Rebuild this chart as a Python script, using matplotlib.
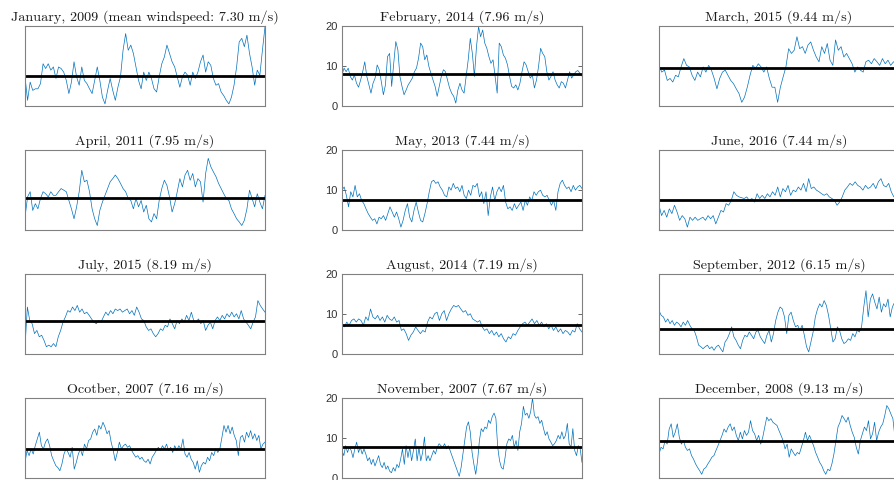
import numpy as np
import matplotlib.pyplot as plt

# hourly-ish wind speed traces (m/s), one per month
jan = [7.2, 1.3, 5.9, 3.8, 4.2, 4.2, 5.5, 10.5, 9.3, 10.5, 8.9, 9.7, 6.8, 9.7, 9.3, 8.4, 6.3, 3.0, 5.9, 11.0,
       7.2, 5.1, 9.7, 6.3, 5.5, 4.2, 3.0, 6.3, 9.7, 6.3, 2.1, 0.4, 3.8, 6.8, 3.8, 1.3, 4.6, 7.2, 13.9, 18.1,
       13.9, 15.2, 13.1, 9.7, 6.3, 4.2, 8.4, 6.3, 8.4, 6.8, 4.2, 3.4, 7.2, 10.5, 12.2, 15.2, 13.1, 11.0, 9.7, 7.2,
       4.6, 7.2, 8.4, 7.6, 5.1, 8.4, 6.8, 8.4, 11.0, 12.7, 8.4, 11.0, 10.1, 6.8, 5.1, 5.5, 3.4, 2.5, 1.3, 0.4,
       2.1, 5.1, 9.7, 16.0, 16.9, 14.8, 17.7, 13.1, 9.7, 5.1, 8.9, 7.6, 13.9, 19.8]
feb = [7.7, 9.4, 8.5, 9.4, 7.3, 6.4, 7.7, 5.6, 4.6, 6.4, 8.5, 11.0, 7.3, 5.2, 3.1, 5.6, 6.9, 10.2, 9.0, 6.0,
       2.7, 5.2, 12.3, 13.1, 4.8, 10.6, 16.1, 14.0, 7.3, 4.8, 2.7, 3.9, 5.2, 6.0, 6.9, 8.5, 9.4, 11.9, 15.7, 14.8,
       11.5, 12.7, 9.8, 8.1, 6.4, 4.8, 2.3, 4.8, 7.3, 9.0, 8.5, 6.4, 4.4, 3.1, 2.3, 0.6, 3.9, 5.6, 3.9, 3.1,
       7.3, 11.5, 16.9, 13.1, 7.3, 14.8, 19.8, 17.3, 19.0, 15.7, 14.4, 12.3, 10.6, 11.5, 7.3, 3.1, 15.7, 14.8, 12.7, 11.9,
       10.2, 7.3, 4.8, 4.4, 5.2, 3.9, 5.6, 8.5, 11.0, 10.2, 8.5, 6.9, 7.7, 4.4, 6.4, 9.8, 14.4, 13.1, 12.3, 8.5,
       6.4, 7.3, 8.5, 6.4, 5.2, 4.4, 6.0, 5.6, 4.4, 6.4, 8.5, 6.9, 7.7, 8.5, 8.8, 8.1, 7.4]
mar = [10.1, 8.4, 8.9, 6.3, 6.8, 5.9, 7.6, 7.2, 9.7, 11.8, 10.1, 9.7, 7.6, 6.3, 8.4, 7.2, 9.7, 8.4, 10.1, 8.9,
       6.8, 4.2, 6.8, 8.4, 8.9, 7.6, 6.3, 5.5, 4.2, 3.0, 0.8, 2.1, 4.6, 7.6, 10.1, 9.3, 10.5, 9.7, 8.4, 9.7,
       6.8, 4.6, 4.6, 0.8, 4.6, 7.2, 9.7, 14.3, 13.1, 13.9, 17.3, 14.3, 14.8, 13.1, 15.2, 16.0, 13.9, 12.2, 11.0, 14.8,
       13.1, 15.6, 11.4, 10.1, 16.5, 13.9, 14.8, 12.2, 13.1, 11.8, 10.5, 8.4, 9.7, 8.9, 8.4, 11.0, 11.4, 10.5, 11.8, 11.0,
       10.1, 11.8, 10.5, 11.4, 10.1, 11.0, 10.5, 11.0]
apr = [3.1, 8.2, 9.5, 4.8, 6.5, 5.2, 7.8, 9.5, 9.0, 8.2, 9.5, 8.6, 8.6, 9.5, 10.3, 9.9, 9.5, 7.3, 5.2, 2.7,
       5.7, 9.5, 14.9, 12.0, 12.4, 9.5, 5.2, 2.7, 1.0, 4.8, 6.9, 8.6, 10.3, 12.0, 12.8, 13.7, 12.8, 11.6, 10.3, 9.5,
       7.8, 7.3, 5.2, 7.8, 5.7, 7.3, 4.4, 6.1, 2.7, 1.9, 4.0, 2.7, 7.3, 10.3, 12.4, 11.1, 8.2, 4.4, 6.5, 9.5,
       12.8, 10.7, 13.7, 14.9, 12.4, 14.1, 10.7, 12.8, 12.0, 6.9, 14.1, 17.9, 15.8, 14.5, 13.3, 11.6, 10.3, 9.0, 7.8, 7.3,
       5.2, 4.0, 2.7, 1.9, 1.0, 2.3, 5.2, 9.9, 7.8, 5.7, 9.0, 6.9, 5.2, 8.6]
may = [9.9, 10.7, 8.6, 5.7, 9.5, 8.2, 11.1, 8.2, 9.0, 7.3, 6.5, 5.2, 4.0, 3.1, 2.3, 2.7, 1.4, 3.1, 2.7, 3.5,
       2.3, 4.0, 5.7, 4.4, 3.1, 4.4, 2.7, 0.6, 2.3, 4.8, 6.5, 3.1, 1.9, 4.8, 6.9, 4.4, 2.3, 1.9, 4.0, 6.5,
       9.5, 12.0, 12.4, 11.6, 12.0, 10.7, 9.9, 8.6, 8.2, 10.7, 9.9, 11.6, 10.3, 10.7, 9.5, 11.1, 8.6, 7.8, 9.9, 8.6,
       11.1, 10.7, 11.6, 8.2, 9.5, 6.5, 9.5, 3.5, 8.2, 10.7, 7.3, 9.5, 10.7, 9.5, 11.1, 6.9, 5.2, 5.7, 4.8, 6.5,
       5.2, 6.1, 6.9, 4.8, 7.3, 6.1, 8.2, 7.3, 9.5, 8.6, 9.5, 9.9, 8.6, 8.2, 8.6, 7.3, 6.1, 7.3, 4.8, 9.5,
       11.6, 12.4, 11.1, 10.3, 10.7, 9.5, 11.1, 9.9, 10.7, 11.1, 10.3]
jun = [6.1, 3.5, 4.8, 3.1, 5.2, 4.0, 6.1, 4.4, 2.3, 3.5, 2.7, 0.6, 3.1, 2.3, 3.1, 2.3, 2.7, 3.1, 2.3, 3.5,
       2.7, 3.5, 1.4, 3.1, 4.8, 4.4, 6.5, 6.1, 7.3, 9.5, 8.6, 8.2, 8.0, 7.8, 8.2, 7.3, 7.8, 6.9, 9.0, 7.8,
       8.6, 7.8, 9.0, 8.2, 9.5, 8.6, 10.7, 8.2, 10.3, 9.5, 11.1, 8.6, 9.9, 9.5, 10.7, 9.9, 11.6, 9.5, 12.8, 10.3,
       10.7, 9.9, 9.5, 9.0, 8.6, 9.0, 8.2, 7.8, 7.3, 6.1, 6.9, 8.2, 9.9, 10.7, 11.6, 11.1, 12.0, 11.1, 10.7, 9.9,
       11.1, 10.3, 10.7, 11.6, 10.3, 12.0, 12.8, 11.1, 10.7, 11.6, 9.5, 8.2, 9.0, 9.9]
jul = [1.7, 11.7, 8.3, 7.5, 5.0, 5.8, 4.2, 4.6, 3.3, 1.7, 2.1, 1.7, 2.5, 1.7, 4.2, 5.8, 7.9, 9.2, 10.8, 10.4,
       11.7, 10.8, 12.1, 10.4, 11.2, 10.0, 10.4, 9.6, 8.7, 7.9, 7.5, 8.3, 7.9, 9.2, 10.4, 9.6, 10.8, 10.0, 11.2, 10.8,
       11.2, 10.4, 10.8, 11.2, 10.0, 10.8, 9.6, 11.7, 10.4, 8.7, 8.3, 6.7, 5.8, 6.2, 5.0, 4.2, 5.0, 6.2, 5.8, 7.1,
       6.7, 8.7, 7.5, 6.2, 8.3, 7.5, 8.7, 7.9, 9.6, 8.3, 10.4, 8.3, 7.9, 8.7, 7.5, 8.3, 5.8, 7.1, 7.9, 6.2,
       8.3, 9.2, 8.3, 9.6, 8.7, 10.0, 9.2, 10.4, 9.2, 10.0, 8.7, 10.8, 8.7, 7.9, 7.1, 6.2, 7.9, 9.2, 13.3, 12.1,
       11.2, 10.4]
aug = [7.1, 6.7, 7.9, 7.1, 8.3, 8.7, 7.9, 8.7, 8.3, 7.1, 9.2, 8.3, 11.2, 9.2, 8.7, 9.6, 8.3, 9.2, 7.9, 9.6,
       8.7, 8.3, 9.2, 7.9, 8.3, 5.8, 6.2, 5.0, 3.3, 4.6, 5.4, 6.7, 5.8, 5.0, 5.8, 5.4, 7.9, 9.2, 8.7, 10.0,
       10.4, 8.3, 10.0, 10.8, 8.3, 10.0, 11.2, 12.1, 11.7, 12.1, 11.2, 10.4, 10.8, 9.6, 10.0, 8.7, 8.3, 7.9, 8.3, 6.7,
       5.8, 6.2, 5.0, 5.8, 4.6, 5.4, 4.2, 5.0, 3.7, 2.9, 4.2, 3.7, 5.0, 4.6, 5.8, 6.7, 7.5, 7.9, 7.1, 7.9,
       8.7, 7.5, 8.3, 7.1, 7.9, 6.7, 7.5, 6.2, 7.1, 5.8, 6.7, 5.4, 6.2, 5.0, 5.8, 5.4, 4.6, 5.8, 5.4, 7.5,
       6.2, 5.4]
sep = [10.8, 9.6, 9.2, 7.9, 8.7, 7.5, 8.3, 7.1, 7.9, 7.5, 6.7, 7.9, 7.1, 8.3, 7.1, 6.2, 5.8, 4.2, 2.1, 1.7,
       1.2, 1.7, 2.1, 1.2, 1.7, 0.8, 1.7, 2.1, 1.2, 0.4, 2.9, 3.7, 5.0, 6.7, 4.2, 3.3, 2.1, 1.2, 3.3, 4.6,
       4.2, 5.4, 4.6, 3.7, 5.4, 5.8, 4.2, 3.3, 2.5, 4.6, 5.8, 2.9, 5.0, 8.3, 10.4, 11.7, 11.2, 9.2, 5.0, 9.6,
       10.4, 8.3, 6.7, 7.1, 5.8, 7.1, 4.6, 1.7, 0.4, 2.9, 5.4, 9.2, 11.2, 12.5, 11.7, 13.3, 12.1, 9.6, 6.2, 2.9,
       3.7, 6.7, 5.8, 3.7, 2.5, 2.9, 3.7, 3.3, 5.0, 4.2, 5.8, 5.4, 6.7, 11.7, 15.8, 9.2, 13.7, 15.0, 12.9, 11.2,
       14.2, 10.4, 12.5, 11.7, 13.7, 9.2, 11.7, 12.9, 10.8, 12.1]
oct_ = [3.8, 6.8, 5.5, 7.2, 5.9, 8.0, 9.7, 11.4, 8.0, 7.2, 8.9, 9.7, 8.0, 5.5, 4.2, 3.0, 2.5, 1.7, 3.4, 5.9,
        7.2, 6.3, 5.1, 7.6, 2.1, 3.8, 5.9, 7.2, 5.5, 8.4, 7.2, 9.3, 9.7, 11.4, 12.2, 10.6, 13.1, 12.2, 13.9, 12.7,
        11.0, 11.8, 8.9, 6.8, 4.2, 6.3, 8.9, 7.2, 8.0, 8.4, 7.6, 8.0, 6.8, 5.9, 5.1, 5.5, 4.6, 5.1, 4.2, 3.8,
        4.6, 3.4, 5.1, 5.9, 6.8, 7.6, 6.8, 8.0, 7.2, 8.4, 6.8, 7.6, 6.3, 8.0, 6.8, 8.0, 7.2, 9.7, 5.9, 5.1,
        6.3, 4.6, 3.8, 2.1, 4.2, 1.3, 3.0, 3.8, 3.4, 5.1, 4.2, 6.3, 5.5, 7.2, 6.3, 7.2, 10.1, 13.1, 11.4, 13.1,
        11.0, 12.7, 10.6, 9.3, 5.5, 10.1, 10.6, 8.9, 11.4, 10.1, 11.8, 9.7, 11.0, 9.3, 10.6, 7.2, 8.4, 8.9]
nov = [6.8, 5.5, 8.0, 6.3, 7.6, 6.8, 5.0, 7.2, 8.9, 6.3, 7.6, 5.9, 7.2, 5.9, 4.2, 5.0, 3.3, 4.6, 2.9, 4.2,
       5.5, 3.3, 2.5, 3.8, 2.1, 2.9, 1.6, 1.2, 2.5, 1.6, 3.3, 2.5, 4.6, 7.2, 3.3, 8.0, 5.0, 7.6, 4.2, 6.8,
       9.7, 4.2, 7.6, 4.2, 6.3, 10.2, 4.2, 5.5, 4.2, 5.5, 6.8, 5.9, 7.6, 8.5, 8.0, 7.6, 8.5, 7.2, 8.0, 6.8,
       5.5, 4.2, 2.9, 1.6, 0.3, 2.5, 5.9, 9.3, 12.7, 14.0, 11.5, 6.3, 3.3, 0.8, 4.2, 9.3, 12.3, 11.5, 12.7, 12.3,
       14.4, 13.6, 15.3, 16.2, 14.9, 7.6, 4.2, 2.5, 2.1, 5.0, 8.5, 9.7, 9.3, 10.6, 7.6, 9.3, 6.8, 11.5, 13.6, 17.9,
       15.7, 16.2, 14.9, 16.6, 20.0, 15.7, 14.9, 15.3, 13.6, 14.4, 12.3, 10.6, 11.5, 9.7, 8.9, 8.0, 8.5, 9.3, 10.6, 9.7,
       11.5, 9.7, 10.6, 13.6, 8.5, 7.6, 12.3, 6.8, 5.5, 8.0, 7.2, 3.8]
dec = [5.9, 7.6, 7.2, 9.3, 8.4, 12.2, 13.5, 10.1, 11.4, 13.5, 10.1, 8.4, 9.3, 7.6, 6.8, 7.2, 5.5, 4.6, 3.4, 2.5,
       1.7, 0.8, 2.1, 2.5, 3.4, 4.2, 5.1, 5.5, 6.8, 8.0, 9.3, 10.6, 12.2, 11.4, 12.7, 13.5, 11.8, 12.7, 10.6, 9.3,
       11.4, 9.7, 11.8, 10.6, 11.4, 14.3, 11.8, 11.0, 9.3, 10.6, 8.4, 10.1, 12.7, 15.2, 14.3, 14.8, 13.9, 13.5, 13.1, 11.8,
       10.6, 9.3, 7.2, 8.4, 5.1, 7.2, 6.3, 5.5, 6.3, 5.9, 7.6, 9.3, 11.4, 9.3, 10.6, 9.3, 8.0, 6.3, 5.1, 3.8,
       3.0, 1.7, 0.8, 2.1, 1.7, 3.4, 5.9, 9.3, 12.7, 13.9, 15.6, 14.8, 13.9, 15.2, 13.1, 11.4, 10.1, 7.6, 5.9, 9.3,
       11.0, 12.7, 11.8, 14.3, 9.7, 11.0, 13.9, 9.3, 11.4, 12.7, 13.5, 15.6, 18.1, 17.3, 16.0, 14.8, 10.1, 11.4, 12.7]

series = [jan, feb, mar, apr, may, jun, jul, aug, sep, oct_, nov, dec]
means = [7.30, 7.96, 9.44, 7.95, 7.44, 7.44, 8.19, 7.19, 6.15, 7.16, 7.67, 9.13]
titles = ["January, 2009 (mean windspeed: 7.30 m/s)", "February, 2014 (7.96 m/s)", "March, 2015 (9.44 m/s)",
          "April, 2011 (7.95 m/s)", "May, 2013 (7.44 m/s)", "June, 2016 (7.44 m/s)",
          "July, 2015 (8.19 m/s)", "August, 2014 (7.19 m/s)", "September, 2012 (6.15 m/s)",
          "Ocotber, 2007 (7.16 m/s)", "November, 2007 (7.67 m/s)", "December, 2008 (9.13 m/s)"]
yticks = [0, 10, 20]

W, H = 894, 480
fig = plt.figure(figsize=(W / 100, H / 100), dpi=100)
col_x = [25, 342, 659]
row_top = [26, 150, 274, 398]
aw, ah = 240, 79.5

for k, (s, m, t) in enumerate(zip(series, means, titles)):
    r, c = divmod(k, 3)
    ax = fig.add_axes([col_x[c] / W, 1 - (row_top[r] + ah) / H, aw / W, ah / H])
    x = np.arange(len(s))
    ax.plot(x, s, color='#0072BD', lw=0.5)
    ax.axhline(m, color='black', lw=2)
    ax.set_xlim(0, len(s) - 1)
    ax.set_ylim(0, 20)
    ax.set_xticks([])
    for sp in ax.spines.values():
        sp.set_color('0.5')
        sp.set_linewidth(0.8)
    if c == 1:
        ax.set_yticks(yticks)
        ax.tick_params(axis='y', direction='in', right=True, length=3, width=0.6,
                       color='0.3', labelsize=8, labelcolor='0.2', pad=3)
        for lb in ax.get_yticklabels():
            lb.set_fontfamily('Liberation Sans')
    else:
        ax.set_yticks([])
    ax.set_title(t, fontfamily='cmr10', fontsize=10.2, color='0.1', pad=4)

plt.savefig('out.png', dpi=100)
